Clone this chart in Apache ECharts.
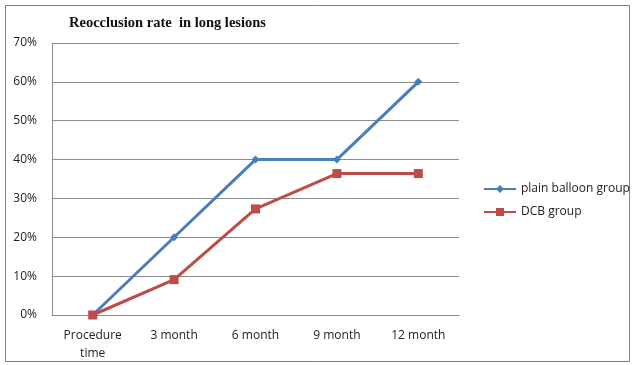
<!DOCTYPE html>
<html>
<head>
<meta charset="utf-8">
<script src="https://cdn.jsdelivr.net/npm/echarts@6/dist/echarts.min.js"></script>
<style>
  html, body { margin: 0; padding: 0; background: #fff; }
  #chart { width: 632px; height: 365px; }
</style>
</head>
<body>
<div id="chart"></div>
<script>
// Follow-up time points
const categories = ['Procedure\ntime', '3 month', '6 month', '9 month', '12 month'];
// Reocclusion rate (%) per group
const plainBalloon = [0, 20, 40, 40, 60];
const dcbGroup = [0, 9.1, 27.3, 36.4, 36.4];
const seriesNames = ['plain balloon group', 'DCB group'];
const yTicks = { min: 0, max: 70, interval: 10 };

const chart = echarts.init(document.getElementById('chart'), null, { renderer: 'canvas' });
const labelFont = '"Open Sans", "DejaVu Sans", sans-serif';

chart.setOption({
  animation: false,
  backgroundColor: '#fff',
  graphic: [{
    type: 'rect',
    shape: { x: 5.5, y: 5.5, width: 624, height: 356 },
    style: { fill: 'none', stroke: '#7f7f7f', lineWidth: 1 },
    silent: true
  }],
  title: {
    text: 'Reocclusion rate  in long lesions',
    left: 64, top: 11,
    textStyle: { fontFamily: '"Liberation Serif", "Times New Roman", serif', fontWeight: 'bold', fontSize: 14.5, color: '#111' }
  },
  legend: {
    orient: 'vertical',
    left: 478, top: 178,
    itemGap: 11,
    itemWidth: 32, itemHeight: 10,
    textStyle: { fontFamily: labelFont, fontSize: 12, color: '#222' },
    data: seriesNames
  },
  grid: { left: 52, right: 173, top: 43, bottom: 50, containLabel: false },
  xAxis: {
    type: 'category',
    data: categories,
    boundaryGap: true,
    axisLine: { lineStyle: { color: '#8c8c8c', width: 1 } },
    axisTick: { show: false },
    axisLabel: { fontFamily: labelFont, fontSize: 12, color: '#222', margin: 12, lineHeight: 18, interval: 0 }
  },
  yAxis: {
    type: 'value',
    min: yTicks.min, max: yTicks.max, interval: yTicks.interval,
    axisLine: { show: true, lineStyle: { color: '#8c8c8c', width: 1 } },
    axisTick: { show: false },
    splitLine: { lineStyle: { color: '#8c8c8c', width: 1 } },
    axisLabel: { formatter: '{value}%', fontFamily: labelFont, fontSize: 12, color: '#222', margin: 15 }
  },
  series: [
    {
      name: seriesNames[0],
      type: 'line',
      data: plainBalloon,
      symbol: 'diamond',
      symbolSize: 8,
      itemStyle: { color: '#4a7ebb' },
      lineStyle: { color: '#4a7ebb', width: 3 },
      z: 3
    },
    {
      name: seriesNames[1],
      type: 'line',
      data: dcbGroup,
      symbol: 'rect',
      symbolSize: 9,
      itemStyle: { color: '#be4b48' },
      lineStyle: { color: '#be4b48', width: 3 },
      z: 4
    }
  ]
});
</script>
</body>
</html>
